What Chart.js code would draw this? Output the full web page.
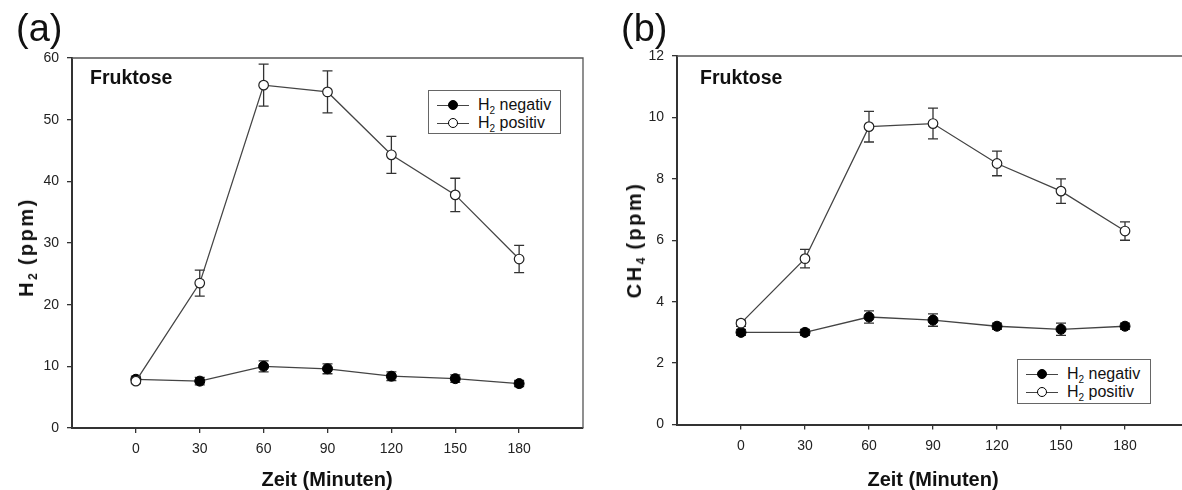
<!DOCTYPE html>
<html><head><meta charset="utf-8">
<script src="https://cdn.jsdelivr.net/npm/chart.js@4.4.1/dist/chart.umd.min.js"></script>
<style>
html,body{margin:0;padding:0;background:#fff;width:1182px;height:490px;overflow:hidden;position:relative;font-family:"Liberation Sans",Arial,sans-serif;color:#111}
.cv{position:absolute;top:0;width:600px;height:490px}
#wa{left:0}
#wb{left:600px}
.lbl{position:absolute;white-space:nowrap;line-height:1}
.panel{font-size:38px;color:#111}
.fr{font-size:19.5px;font-weight:bold;color:#111}
.xt{font-size:20px;font-weight:bold;transform:translateX(-50%);color:#111}
.yt{font-size:20px;font-weight:bold;transform:translate(-50%,-50%) rotate(-90deg);letter-spacing:2.5px;color:#111}
.yt sub{font-size:12px;vertical-align:-4px;line-height:0;letter-spacing:0}
.leg{position:absolute;border:1px solid #666;background:#fff;box-sizing:border-box;font-size:16px;padding:5px 0 0 8px;color:#111}
.row{height:18px;display:flex;align-items:center;white-space:nowrap}
.sym{position:relative;width:32px;height:10px;margin-right:9px;flex:none}
.sym:before{content:"";position:absolute;left:0;right:0;top:4.5px;height:1.2px;background:#444}
.sym i{position:absolute;left:11px;top:0;width:10px;height:10px;border-radius:50%;box-sizing:border-box;border:1.2px solid #000}
.leg .t{white-space:pre}
.leg sub{font-size:10px;vertical-align:-4px;line-height:0}
</style>
</head><body>
<div class="cv" id="wa"><canvas id="ca" width="600" height="490"></canvas></div>
<div class="cv" id="wb"><canvas id="cb" width="600" height="490"></canvas></div>

<div class="lbl panel" style="left:16px;top:9px">(a)</div>
<div class="lbl panel" style="left:621px;top:9px">(b)</div>
<div class="lbl fr" style="left:90px;top:67.5px">Fruktose</div>
<div class="lbl fr" style="left:700px;top:67.5px">Fruktose</div>
<div class="lbl xt" style="left:327px;top:468.5px">Zeit (Minuten)</div>
<div class="lbl xt" style="left:933px;top:468.5px">Zeit (Minuten)</div>
<div class="lbl yt" style="left:26px;top:247px">H<sub>2</sub> (ppm)</div>
<div class="lbl yt" style="left:634px;top:240px">CH<sub>4</sub> (ppm)</div>

<div class="leg" style="left:428px;top:90px;width:133px;height:44px">
  <div class="row"><span class="sym"><i style="background:#000"></i></span><span class="t">H<sub>2</sub> negativ</span></div>
  <div class="row"><span class="sym"><i style="background:#fff"></i></span><span class="t">H<sub>2</sub> positiv</span></div>
</div>
<div class="leg" style="left:1017px;top:359px;width:134px;height:45px">
  <div class="row"><span class="sym"><i style="background:#000"></i></span><span class="t">H<sub>2</sub> negativ</span></div>
  <div class="row"><span class="sym"><i style="background:#fff"></i></span><span class="t">H<sub>2</sub> positiv</span></div>
</div>

<script>
// ---- data ----
const timeMinutes = [0, 30, 60, 90, 120, 150, 180];
const xTicks = [0, 30, 60, 90, 120, 150, 180];

const h2Negativ    = [7.9, 7.6, 10.0, 9.6, 8.4, 8.0, 7.2];
const h2NegativErr = [0.5, 0.6, 0.9, 0.8, 0.7, 0.6, 0.5];
const h2Positiv    = [7.6, 23.5, 55.6, 54.5, 44.3, 37.8, 27.4];
const h2PositivErr = [0.4, 2.1, 3.4, 3.4, 3.0, 2.7, 2.2];
const yTicksA = [0, 10, 20, 30, 40, 50, 60];

const ch4Negativ    = [3.0, 3.0, 3.5, 3.4, 3.2, 3.1, 3.2];
const ch4NegativErr = [0.1, 0.1, 0.2, 0.2, 0.1, 0.2, 0.1];
const ch4Positiv    = [3.3, 5.4, 9.7, 9.8, 8.5, 7.6, 6.3];
const ch4PositivErr = [0.1, 0.3, 0.5, 0.5, 0.4, 0.4, 0.3];
const yTicksB = [0, 2, 4, 6, 8, 10, 12];

const FONT = "'Liberation Sans', Arial, sans-serif";

const errorBarPlugin = {
  id: 'errorBars',
  beforeDatasetsDraw(chart) {
    const ctx = chart.ctx, xs = chart.scales.x, ys = chart.scales.y;
    ctx.save();
    ctx.strokeStyle = '#333';
    ctx.lineWidth = 1.3;
    chart.data.datasets.forEach(ds => {
      if (!ds.errors) return;
      ds.data.forEach((p, i) => {
        const e = ds.errors[i];
        const px = xs.getPixelForValue(p.x);
        const pt = ys.getPixelForValue(p.y + e);
        const pb = ys.getPixelForValue(p.y - e);
        ctx.beginPath();
        ctx.moveTo(px, pt); ctx.lineTo(px, pb);
        ctx.moveTo(px - 5, pt); ctx.lineTo(px + 5, pt);
        ctx.moveTo(px - 5, pb); ctx.lineTo(px + 5, pb);
        ctx.stroke();
      });
    });
    ctx.restore();
  }
};

const framePlugin = {
  id: 'frame',
  afterDraw(chart) {
    const a = chart.chartArea, ctx = chart.ctx;
    ctx.save();
    ctx.strokeStyle = '#555';
    ctx.lineWidth = 1.3;
    ctx.beginPath();
    ctx.moveTo(a.left, a.top); ctx.lineTo(a.right, a.top); ctx.lineTo(a.right, a.bottom);
    ctx.stroke();
    ctx.restore();
  }
};

function pts(ys) { return timeMinutes.map((t, i) => ({ x: t, y: ys[i] })); }

function makeChart(id, neg, negErr, pos, posErr, yTicks, geom) {
  const yMax = yTicks[yTicks.length - 1];
  return new Chart(document.getElementById(id), {
    type: 'line',
    data: {
      datasets: [
        { label: 'H₂ negativ', data: pts(neg), errors: negErr, order: 1,
          borderColor: '#444', borderWidth: 1.3, pointRadius: 5, pointBackgroundColor: '#000',
          pointBorderColor: '#000', pointBorderWidth: 1, fill: false, tension: 0 },
        { label: 'H₂ positiv', data: pts(pos), errors: posErr, order: 0,
          borderColor: '#444', borderWidth: 1.3, pointRadius: 4.8, pointBackgroundColor: '#fff',
          pointBorderColor: '#222', pointBorderWidth: 1.2, fill: false, tension: 0 }
      ]
    },
    options: {
      responsive: false, animation: false, devicePixelRatio: 1,
      layout: { padding: { top: geom.top, right: geom.right, left: 0, bottom: 0 } },
      plugins: { legend: { display: false }, tooltip: { enabled: false } },
      scales: {
        x: {
          type: 'linear', min: -30, max: 210,
          afterBuildTicks: s => { s.ticks = xTicks.map(v => ({ value: v })); },
          afterFit: s => { s.height = geom.bottomH; },
          grid: { display: true, drawOnChartArea: false, drawTicks: true, tickLength: 5, color: '#333', lineWidth: 1.3 },
          border: { display: true, color: '#333', width: 2 },
          ticks: { font: { family: FONT, size: 14 }, color: '#222', padding: 8, maxRotation: 0, autoSkip: false }
        },
        y: {
          type: 'linear', min: 0, max: yMax,
          afterBuildTicks: s => { s.ticks = yTicks.map(v => ({ value: v })); },
          afterFit: s => { s.width = geom.left; },
          grid: { display: true, drawOnChartArea: false, drawTicks: true, tickLength: 5, color: '#333', lineWidth: 1.3 },
          border: { display: true, color: '#333', width: 2 },
          ticks: { font: { family: FONT, size: 14 }, color: '#222', padding: 8, autoSkip: false }
        }
      }
    },
    plugins: [errorBarPlugin, framePlugin]
  });
}

makeChart('ca', h2Negativ, h2NegativErr, h2Positiv, h2PositivErr, yTicksA,
  { left: 72, top: 58, right: 17, bottomH: 62 });
makeChart('cb', ch4Negativ, ch4NegativErr, ch4Positiv, ch4PositivErr, yTicksB,
  { left: 77, top: 56, right: 11, bottomH: 65.5 });
</script>
</body></html>
